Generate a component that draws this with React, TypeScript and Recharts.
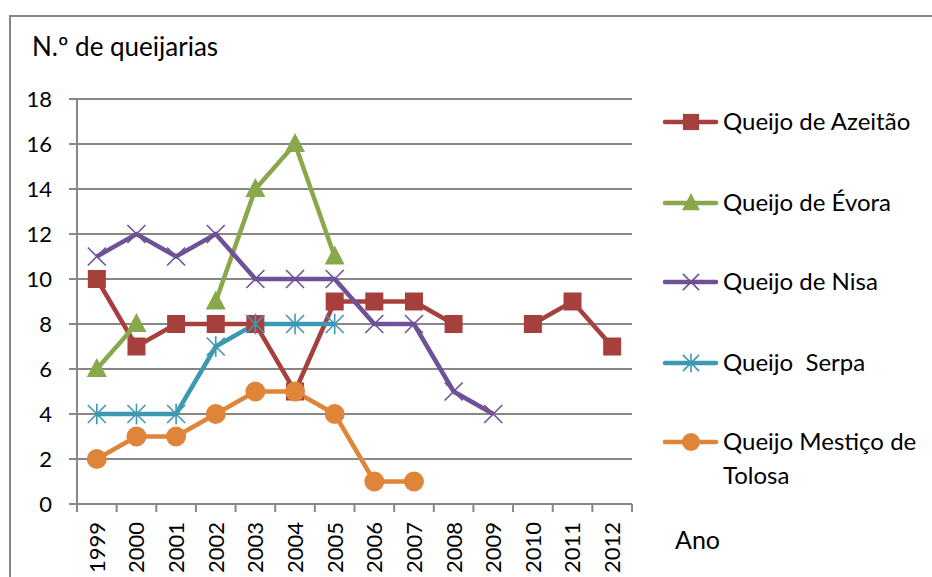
import React from "react"
import { CartesianGrid, Line, LineChart, XAxis, YAxis } from "recharts"

const YEARS = ["1999", "2000", "2001", "2002", "2003", "2004", "2005", "2006", "2007", "2008", "2009", "2010", "2011", "2012"]
const AZEITAO = [10, 7, 8, 8, 8, 5, 9, 9, 9, 8, null, 8, 9, 7]
const EVORA = [6, 8, null, 9, 14, 16, 11, null, null, null, null, null, null, null]
const NISA = [11, 12, 11, 12, 10, 10, 10, 8, 8, 5, 4, null, null, null]
const SERPA = [4, 4, 4, 7, 8, 8, 8, null, null, null, null, null, null, null]
const TOLOSA = [2, 3, 3, 4, 5, 5, 4, 1, 1, null, null, null, null, null]
const Y_TICKS = [0, 2, 4, 6, 8, 10, 12, 14, 16, 18]

const SERIES = [
  { key: "azeitao", name: ["Queijo de Azeitão"], color: "#A5403D", shape: "square", values: AZEITAO },
  { key: "evora", name: ["Queijo de Évora"], color: "#89A74B", shape: "triangle", values: EVORA },
  { key: "nisa", name: ["Queijo de Nisa"], color: "#6E5197", shape: "x", values: NISA },
  { key: "serpa", name: ["Queijo  Serpa"], color: "#3D98B2", shape: "star", values: SERPA },
  { key: "tolosa", name: ["Queijo Mestiço de", "Tolosa"], color: "#DF853A", shape: "circle", values: TOLOSA },
]

const data = YEARS.map((year, i) => {
  const row: any = { year }
  SERIES.forEach((s) => (row[s.key] = s.values[i]))
  return row
})

const FONT = "Lato, 'Open Sans', sans-serif"
const GRAY = "#878787"
const PLOT_LEFT = 77
const PLOT_RIGHT = 632
const PLOT_BOTTOM = 504
const STEP = (PLOT_RIGHT - PLOT_LEFT) / YEARS.length

function Marker({ shape, color, cx, cy, s = 1 }: any) {
  if (shape === "square") return <rect x={cx - 9 * s} y={cy - 9 * s} width={18 * s} height={18 * s} fill={color} />
  if (shape === "triangle")
    return <polygon points={`${cx},${cy - 11 * s} ${cx + 10 * s},${cy + 8 * s} ${cx - 10 * s},${cy + 8 * s}`} fill={color} />
  if (shape === "circle") return <circle cx={cx} cy={cy} r={10 * s} fill={color} />
  const d = 9 * s
  return (
    <g stroke={color} strokeWidth={1.6}>
      <line x1={cx - d} y1={cy - d} x2={cx + d} y2={cy + d} />
      <line x1={cx - d} y1={cy + d} x2={cx + d} y2={cy - d} />
      {shape === "star" && <line x1={cx} y1={cy - d * 1.15} x2={cx} y2={cy + d * 1.15} />}
    </g>
  )
}

function makeDot(shape: string, color: string) {
  return (p: any) => {
    if (p.value == null || p.cy == null) return <g key={p.key} />
    return (
      <g key={p.key}>
        <Marker shape={shape} color={color} cx={p.cx} cy={p.cy} />
      </g>
    )
  }
}

function XTick({ x, payload, index }: any) {
  const y0 = PLOT_BOTTOM
  return (
    <g>
      <line x1={x - STEP / 2} y1={y0} x2={x - STEP / 2} y2={y0 + 8} stroke={GRAY} strokeWidth={2} />
      {index === YEARS.length - 1 && (
        <line x1={x + STEP / 2} y1={y0} x2={x + STEP / 2} y2={y0 + 8} stroke={GRAY} strokeWidth={2} />
      )}
      <text
        x={x}
        y={y0 + 18}
        transform={`rotate(-90 ${x} ${y0 + 18})`}
        textAnchor="end"
        dy="0.36em"
        fontSize={22}
        fontFamily={FONT}
        fill="#000"
      >
        {payload.value}
      </text>
    </g>
  )
}

const LEGEND_Y = [122, 203, 282, 363, 442]

export default function App() {
  return (
    <div style={{ position: "fixed", left: 0, top: 0, width: 932, height: 577, overflow: "hidden", background: "#fff" }}>
      <div style={{ position: "absolute", left: 9, top: 15, width: 1000, height: 700, border: `2px solid ${GRAY}` }} />
      <div style={{ position: "absolute", left: 0, top: 0 }}>
        <LineChart width={932} height={620} data={data} margin={{ top: 99, right: 932 - PLOT_RIGHT, bottom: 36, left: 0 }}>
          <CartesianGrid vertical={false} stroke={GRAY} strokeWidth={2} />
          <XAxis
            dataKey="year"
            interval={0}
            height={80}
            padding={{ left: STEP / 2, right: STEP / 2 }}
            tickLine={false}
            axisLine={{ stroke: GRAY, strokeWidth: 2 }}
            tick={<XTick />}
          />
          <YAxis
            domain={[0, 18]}
            ticks={Y_TICKS}
            interval={0}
            width={PLOT_LEFT}
            tickSize={8}
            tickMargin={17}
            axisLine={{ stroke: GRAY, strokeWidth: 2 }}
            tickLine={{ stroke: GRAY, strokeWidth: 2 }}
            tick={{ fontSize: 22, fontFamily: FONT, fill: "#000" }}
          />
          {SERIES.map((s) => (
            <Line
              key={s.key}
              dataKey={s.key}
              name={s.name.join(" ")}
              stroke={s.color}
              strokeWidth={4.5}
              dot={makeDot(s.shape, s.color)}
              activeDot={false}
              isAnimationActive={false}
            />
          ))}
        </LineChart>
      </div>
      <svg width={932} height={577} style={{ position: "absolute", left: 0, top: 0, whiteSpace: "pre" }} fontFamily={FONT}>
        <text x={32} y={56} fontSize={26} fill="#000">
          N.º de queijarias
        </text>
        <text x={675} y={549} fontSize={25} fill="#000">
          Ano
        </text>
        {SERIES.map((s, i) => {
          const y = LEGEND_Y[i]
          return (
            <g key={s.key}>
              <line x1={665} y1={y} x2={716} y2={y} stroke={s.color} strokeWidth={4.5} strokeLinecap="round" />
              <Marker shape={s.shape} color={s.color} cx={691} cy={y} s={0.9} />
              {s.name.map((line, j) => (
                <text key={j} x={723} y={y + 8 + j * 34} fontSize={24} fill="#000" xmlSpace="preserve">
                  {line}
                </text>
              ))}
            </g>
          )
        })}
      </svg>
    </div>
  )
}
